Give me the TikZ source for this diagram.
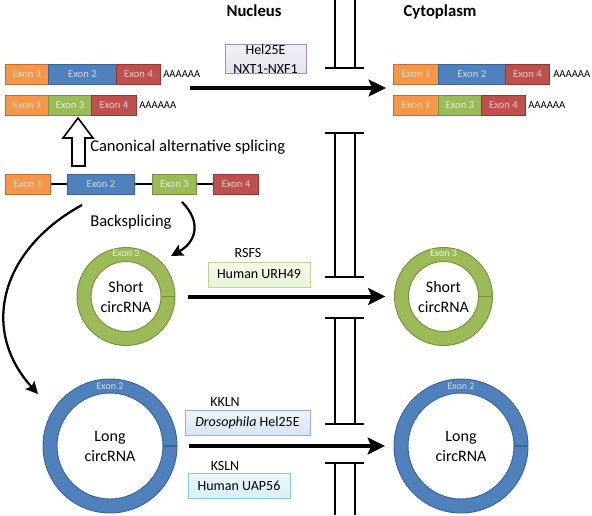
\documentclass[tikz,border=0pt]{standalone}
\usepackage{fontspec}
\setmainfont{Carlito}
\usetikzlibrary{arrows.meta,calc}
\definecolor{cOr}{HTML}{F79646}\definecolor{dOr}{HTML}{C0702E}
\definecolor{cBl}{HTML}{4F81BD}\definecolor{dBl}{HTML}{3A6496}
\definecolor{cGr}{HTML}{9BBB59}\definecolor{dGr}{HTML}{76923C}
\definecolor{cRd}{HTML}{C0504D}\definecolor{dRd}{HTML}{943634}
\definecolor{pPu}{HTML}{E6E0EE}\definecolor{bPu}{HTML}{9F91C8}
\definecolor{pGr}{HTML}{EBF3D8}\definecolor{bGr}{HTML}{BBD494}
\definecolor{pBl}{HTML}{D8E4F4}\definecolor{bBl}{HTML}{8FB1DD}
\definecolor{pCy}{HTML}{D8F0F7}\definecolor{bCy}{HTML}{86C9DE}
\newcommand\drawring[5]{%
  \fill[#4, even odd rule] (#1) circle[radius=#2*0.75pt] (#1) circle[radius=#3*0.75pt];
  \draw[#5, line width=0.7pt] (#1) circle[radius=#2*0.75pt] (#1) circle[radius=#3*0.75pt];
  \draw[#5, line width=1.2pt] ($(#1)+(#3*0.75pt,0pt)$) -- ($(#1)+(#2*0.75pt,0pt)$);}
\begin{document}
\begin{tikzpicture}[x=0.75pt,y=-0.75pt,
  exon/.style={draw, line width=0.6pt, anchor=west, inner sep=0pt, minimum height=15pt,
    font=\fontsize{8}{9}\selectfont},
  exor/.style={exon, fill=cOr, draw=dOr, text=white!72!cOr},
  exbl/.style={exon, fill=cBl, draw=dBl, text=white!72!cBl},
  exgr/.style={exon, fill=cGr, draw=dGr, text=white!72!cGr},
  exrd/.style={exon, fill=cRd, draw=dRd, text=white!72!cRd},
  polya/.style={anchor=west, inner sep=0pt, font=\fontsize{8}{9}\selectfont},
  pbox/.style={draw, line width=0.6pt, inner sep=0pt, align=center, minimum height=18.75pt,
    font=\fontsize{10.5}{14}\selectfont},
  plabel/.style={inner sep=0pt, font=\fontsize{10.5}{12}\selectfont},
  title/.style={inner sep=0pt, font=\fontsize{12.5}{14}\selectfont\bfseries},
  note/.style={anchor=west, inner sep=0pt, font=\fontsize{12.4}{14}\selectfont},
  circtext/.style={circle, inner sep=0pt, align=center, font=\fontsize{12}{15}\selectfont},
  ringlabel/.style={inner sep=0pt, font=\fontsize{7.5}{8}\selectfont},
  bigarrow/.style={line width=3pt, -{Stealth[length=13pt, width=12.5pt, inset=2.5pt]}},
  curvearrow/.style={line width=1.7pt, -{Stealth[length=9pt, width=9pt, inset=1.5pt]}},
  memline/.style={line width=1.1pt},
  membar/.style={line width=1.5pt}]
\useasboundingbox (0,0) rectangle (592,515);

% titles
\node[title] (nuc) at (254,11) {Nucleus};
\node[title] (cyt) at (440,12) {Cytoplasm};

% nuclear membrane
\draw[memline] (335,0) -- (335,68) (355,0) -- (355,68);
\draw[membar] (325,68) -- (364,68);
\draw[membar] (325,133) -- (364,133) (325,277) -- (364,277);
\draw[memline] (335,133) -- (335,277) (355,133) -- (355,277);
\draw[membar] (325,318) -- (364,318) (325,424) -- (364,424);
\draw[memline] (335,318) -- (335,424) (355,318) -- (355,424);
\draw[membar] (325,463) -- (364,463);
\draw[memline] (335,463) -- (335,515) (355,463) -- (355,515);

% left mRNAs
\node[exor, minimum width=43*0.75pt] (a1) at (5,74) {Exon 1};
\node[exbl, minimum width=68*0.75pt] (a2) at (48,74) {Exon 2};
\node[exrd, minimum width=44*0.75pt] (a4) at (116,74) {Exon 4};
\node[polya] (aA) at (163,74) {AAAAAA};
\node[exor, minimum width=43*0.75pt] (b1) at (5,105) {Exon 1};
\node[exgr, minimum width=43*0.75pt] (b3) at (48,105) {Exon 3};
\node[exrd, minimum width=45*0.75pt] (b4) at (91,105) {Exon 4};
\node[polya] (bA) at (139,105) {AAAAAA};

% right mRNAs
\node[exor, minimum width=45*0.75pt] (c1) at (393,74) {Exon 1};
\node[exbl, minimum width=67*0.75pt] (c2) at (438,74) {Exon 2};
\node[exrd, minimum width=44*0.75pt] (c4) at (505,74) {Exon 4};
\node[polya] (cA) at (553,74) {AAAAAA};
\node[exor, minimum width=45*0.75pt] (d1) at (393,105) {Exon 1};
\node[exgr, minimum width=43*0.75pt] (d3) at (438,105) {Exon 3};
\node[exrd, minimum width=44*0.75pt] (d4) at (481,105) {Exon 4};
\node[polya] (dA) at (528,105) {AAAAAA};

% gene
\node[exor, minimum width=45*0.75pt] (g1) at (5,184) {Exon 1};
\node[exbl, minimum width=67*0.75pt] (g2) at (67,184) {Exon 2};
\node[exgr, minimum width=44*0.75pt] (g3) at (152,184) {Exon 3};
\node[exrd, minimum width=45*0.75pt] (g4) at (213,184) {Exon 4};
\draw[line width=0.8pt] (g1) -- (g2) (g2) -- (g3) (g3) -- (g4);

% hollow splicing arrow
\draw[line width=1.2pt, fill=white, line join=miter]
  (72,166) -- (72,138) -- (63,138) -- (78,118) -- (93,138) -- (85,138) -- (85,166) -- cycle;
\node[note] (cas) at (90,147) {Canonical alternative splicing};
\node[note] (bsp) at (90,222) {Backsplicing};

% export of mRNA
\coordinate (tA) at (190,88);
\coordinate (tB) at (386,88);
\draw[bigarrow] (tA) -- (tB);
\node[pbox, minimum width=81*0.75pt, top color=pPu!50!white, bottom color=pPu, draw=bPu] (hel) at (265.5,59) {Hel25E\\NXT1-NXF1};

% rings
\drawring{126,296.5}{49}{35}{cGr}{dGr}
\drawring{443.5,296.5}{49}{35}{cGr}{dGr}
\drawring{110,446}{67}{53}{cBl}{dBl}
\drawring{461,446}{67}{53}{cBl}{dBl}
\node[circtext, minimum size=73.5pt] (sL) at (126,296.5) {Short\\circRNA};
\node[circtext, minimum size=73.5pt] (sR) at (443.5,296.5) {Short\\circRNA};
\node[circtext, minimum size=100.5pt] (lL) at (110,446) {Long\\circRNA};
\node[circtext, minimum size=100.5pt] (lR) at (461,446) {Long\\circRNA};
\node[ringlabel, text=white!80!cGr] (sLe) at (126,253) {Exon 3};
\node[ringlabel, text=white!80!cGr] (sRe) at (443.5,253) {Exon 3};
\node[ringlabel, text=white!75!cBl] (lLe) at (110,386) {Exon 2};
\node[ringlabel, text=white!75!cBl] (lRe) at (461,386) {Exon 2};

% backsplicing arrows
\coordinate (bs1) at (182,202);
\coordinate (bs2) at (171,256);
\coordinate (bl1) at (82,205);
\coordinate (bl2) at (38,394);
\draw[curvearrow] (bs1) .. controls (202,222) and (196,242) .. (bs2);
\draw[curvearrow] (bl1) .. controls (0,250) and (-20,330) .. (bl2);

% circRNA export
\draw[bigarrow, shorten <=9.5pt, shorten >=6.5pt] (sL) -- (sR);
\draw[bigarrow, shorten <=8.5pt, shorten >=6.5pt] (lL) -- (lR);

% factors
\node[plabel] (rsfs) at (248,253) {RSFS};
\node[pbox, minimum width=102*0.75pt, top color=pGr!50!white, bottom color=pGr, draw=bGr] (urh) at (259,274.5) {Human URH49};
\node[plabel] (kkln) at (225,402) {KKLN};
\node[pbox, minimum width=125*0.75pt, top color=pBl!40!white, bottom color=pBl, draw=bBl] (dro) at (247.5,422.5) {\textit{Drosophila} Hel25E};
\node[plabel] (ksln) at (225,466) {KSLN};
\node[pbox, minimum width=102*0.75pt, top color=pCy!50!white, bottom color=pCy, draw=bCy] (uap) at (239,485.5) {Human UAP56};
\end{tikzpicture}
\end{document}
